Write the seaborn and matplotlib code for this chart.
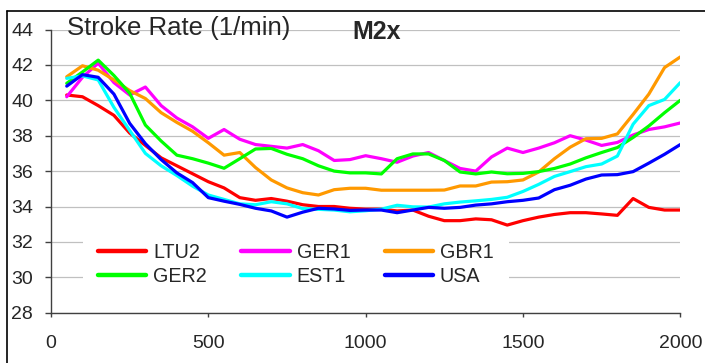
import matplotlib
matplotlib.use("Agg")
import matplotlib.pyplot as plt
from matplotlib.lines import Line2D
import seaborn as sns
import pandas as pd

# Distance along the 2000 m course (m)
distance = list(range(50, 2001, 50))

teams = ["LTU2", "GER1", "GBR1", "GER2", "EST1", "USA"]
colors = ["#FF0000", "#FF00FF", "#FF9900", "#00FF00", "#00FFFF", "#0000FF"]

# Stroke rate (1/min) for each crew at every 50 m
ltu2 = [40.3, 40.2, 39.7, 39.15, 38.15, 37.45, 36.75, 36.3, 35.85, 35.4,
        35.05, 34.5, 34.35, 34.45, 34.3, 34.1, 34.0, 34.0, 33.9, 33.85,
        33.85, 33.75, 33.8, 33.45, 33.2, 33.2, 33.3, 33.25, 32.95, 33.2,
        33.4, 33.55, 33.65, 33.65, 33.58, 33.5, 34.45, 33.95, 33.8, 33.8]
ger1 = [40.2, 41.3, 42.1, 41.0, 40.3, 40.75, 39.7, 39.0, 38.5, 37.85,
        38.35, 37.8, 37.5, 37.4, 37.3, 37.5, 37.15, 36.6, 36.65, 36.87,
        36.7, 36.5, 36.85, 37.05, 36.6, 36.15, 36.0, 36.8, 37.3, 37.05,
        37.3, 37.6, 38.0, 37.75, 37.45, 37.62, 38.04, 38.35, 38.5, 38.72]
gbr1 = [41.33, 41.95, 41.7, 41.15, 40.55, 40.1, 39.3, 38.75, 38.25, 37.6,
        36.9, 37.05, 36.2, 35.5, 35.05, 34.78, 34.65, 34.95, 35.03, 35.03,
        34.92, 34.92, 34.92, 34.92, 34.93, 35.16, 35.16, 35.38, 35.4, 35.5,
        35.95, 36.7, 37.35, 37.83, 37.85, 38.1, 39.2, 40.35, 41.85, 42.45]
ger2 = [40.96, 41.6, 42.27, 41.4, 40.4, 38.6, 37.7, 36.9, 36.7, 36.45,
        36.16, 36.7, 37.25, 37.28, 36.95, 36.7, 36.3, 36.0, 35.9, 35.9,
        35.84, 36.7, 36.97, 36.97, 36.6, 35.95, 35.84, 35.95, 35.85, 35.87,
        35.97, 36.15, 36.4, 36.75, 37.05, 37.33, 37.9, 38.55, 39.3, 40.0]
est1 = [41.24, 41.38, 41.15, 39.6, 38.3, 37.0, 36.3, 35.75, 35.15, 34.65,
        34.4, 34.15, 34.1, 34.27, 34.15, 33.88, 33.84, 33.8, 33.7, 33.76,
        33.85, 34.07, 33.98, 33.97, 34.15, 34.25, 34.32, 34.4, 34.52, 34.85,
        35.25, 35.7, 35.97, 36.25, 36.4, 36.85, 38.65, 39.7, 40.05, 41.0]
usa = [40.8, 41.45, 41.3, 40.35, 38.7, 37.55, 36.65, 35.9, 35.35, 34.5,
       34.3, 34.12, 33.9, 33.75, 33.4, 33.68, 33.9, 33.86, 33.78, 33.8,
       33.8, 33.65, 33.8, 33.95, 33.9, 33.95, 34.08, 34.15, 34.27, 34.35,
       34.48, 34.95, 35.2, 35.55, 35.78, 35.8, 35.97, 36.45, 36.95, 37.5]

series = [ltu2, ger1, gbr1, ger2, est1, usa]

df = pd.concat(
    [pd.DataFrame({"Distance": distance, "Rate": vals, "Team": name})
     for name, vals in zip(teams, series)],
    ignore_index=True,
)

sns.set_theme(style="white")
plt.rcParams["font.family"] = ["Liberation Sans", "DejaVu Sans"]
plt.rcParams["lines.solid_joinstyle"] = "round"
plt.rcParams["lines.solid_capstyle"] = "round"

fig = plt.figure(figsize=(7.05, 3.63), dpi=100)
ax = fig.add_axes([51 / 705, 1 - 312.7 / 363, 629.3 / 705, 283.2 / 363])

sns.lineplot(data=df, x="Distance", y="Rate", hue="Team", hue_order=teams,
             palette=dict(zip(teams, colors)), linewidth=2.3, ax=ax,
             legend=False)

ax.set_xlim(0, 2000)
ax.set_ylim(28, 44)
ax.set_xticks([0, 500, 1000, 1500, 2000])
ax.set_yticks(range(28, 45, 2))
ax.set_xlabel("")
ax.set_ylabel("")
ax.yaxis.grid(True, color="#C0C0C0", linewidth=0.9)
ax.xaxis.grid(False)
ax.set_axisbelow(True)

for side in ("top", "right"):
    ax.spines[side].set_visible(False)
for side in ("left", "bottom"):
    ax.spines[side].set_color("#404040")
    ax.spines[side].set_linewidth(1.0)

ax.tick_params(axis="y", direction="out", length=4.3, width=1.0,
               color="#404040", pad=8.5, labelsize=14, left=True)
ax.tick_params(axis="x", direction="out", length=3.0, width=1.0,
               color="#404040", pad=13, labelsize=14, bottom=True)

# Legend: three columns, two rows
order = ["LTU2", "GER2", "GER1", "EST1", "GBR1", "USA"]
cmap = dict(zip(teams, colors))
handles = [Line2D([], [], color=cmap[t], linewidth=3.2,
                  solid_capstyle="round") for t in order]
leg = ax.legend(handles, order, ncol=3, loc="upper left",
                bbox_to_anchor=((83 - 51) / 629.3, 1 - (228 - 29.5) / 283.2),
                borderaxespad=0, frameon=True, fontsize=14.2,
                handlelength=2.45, handletextpad=0.35, columnspacing=1.75,
                labelspacing=0.25, borderpad=0.75)
leg.get_frame().set_facecolor("white")
leg.get_frame().set_edgecolor("none")
leg.get_frame().set_alpha(1)

fig.text(67 / 705, 1 - 35.5 / 363, "Stroke Rate (1/min)", fontsize=18.5,
         va="baseline", ha="left")
fig.text(352 / 705, 1 - 39.3 / 363, "M2x", fontsize=18, fontweight="bold",
         va="baseline", ha="left")

# Chart border
fig.add_artist(Line2D([7 / 705, 7 / 705], [0, 1 - 10.5 / 363],
                      transform=fig.transFigure, color="black", linewidth=1.2))
fig.add_artist(Line2D([7 / 705, 1], [1 - 10.5 / 363, 1 - 10.5 / 363],
                      transform=fig.transFigure, color="black", linewidth=1.2))

fig.savefig("out.png", dpi=100)
